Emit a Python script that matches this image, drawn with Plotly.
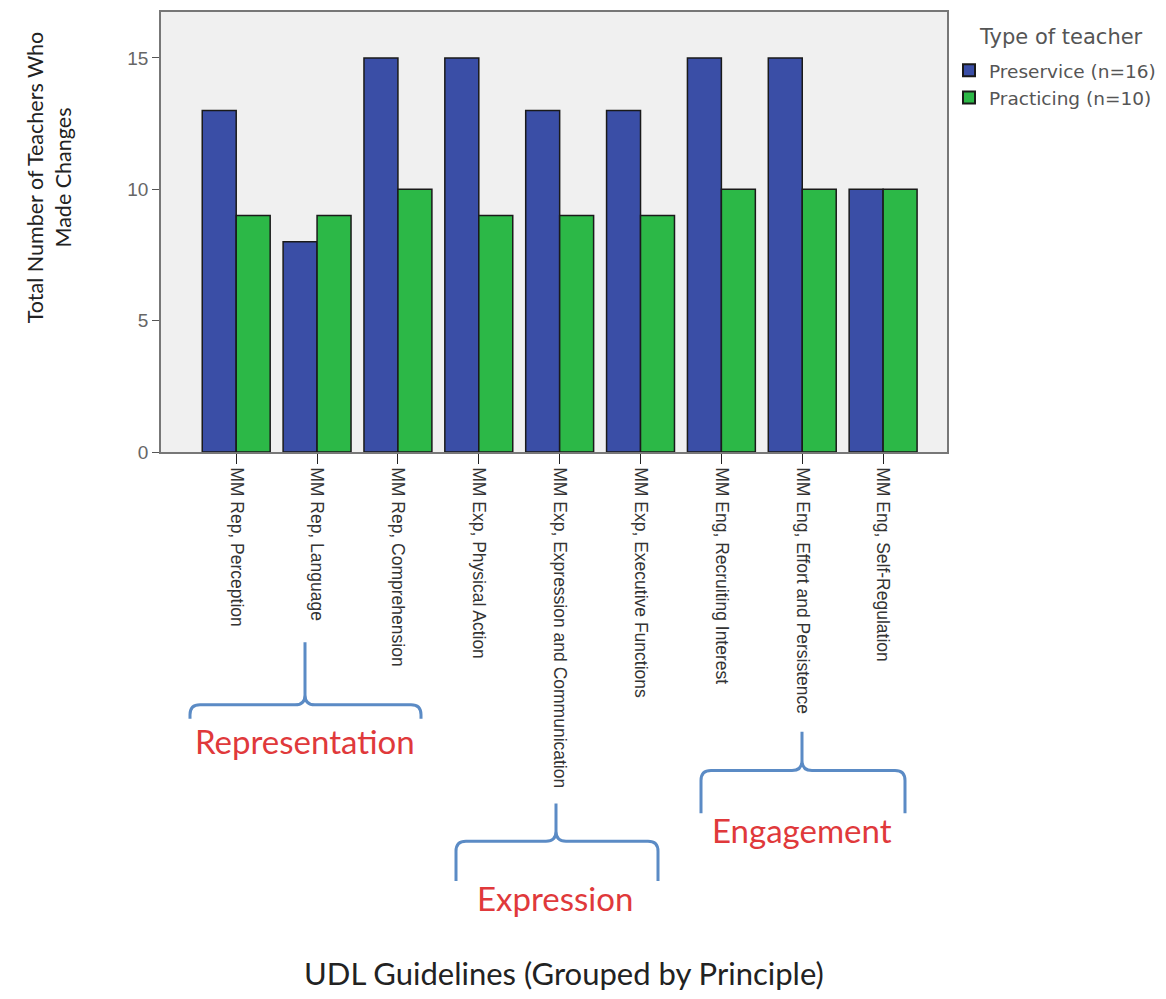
import plotly.graph_objects as go

categories = [
    "MM Rep, Perception",
    "MM Rep, Language",
    "MM Rep, Comprehension",
    "MM Exp, Physical Action",
    "MM Exp, Expression and Communication",
    "MM Exp, Executive Functions",
    "MM Eng, Recruiting Interest",
    "MM Eng, Effort and Persistence",
    "MM Eng, Self-Regulation",
]
preservice = [13, 8, 15, 15, 13, 13, 15, 15, 10]
practicing = [9, 9, 10, 9, 9, 9, 10, 10, 10]
series_names = ["Preservice (n=16)", "Practicing (n=10)"]
y_ticks = [0, 5, 10, 15]

# page is offset by the default 8px body margin
OFF = 8
PW, PH = 1166, 999
W, H = PW - OFF, PH - OFF
L, R, T, B = 161, 947, 10, 452  # plot area pixel box (page coords)


def px(x):
    return (x - L) / (R - L)


def py(y):
    return (B - y) / (B - T)


fig = go.Figure()
fig.add_trace(go.Bar(x=categories, y=preservice, name=series_names[0],
                     marker=dict(color="#3A4EA6", line=dict(color="#1a1a1a", width=1.5))))
fig.add_trace(go.Bar(x=categories, y=practicing, name=series_names[1],
                     marker=dict(color="#2CB847", line=dict(color="#1a1a1a", width=1.5))))


def brace(x0, x1, xm, ytip, ymid, yend, r=10):
    def P(x, y):
        return f"{px(x):.5f},{py(y):.5f}"
    d = (f"M {P(x0, yend)} L {P(x0, ymid + r)} Q {P(x0, ymid)} {P(x0 + r, ymid)} "
         f"L {P(xm - r, ymid)} Q {P(xm, ymid)} {P(xm, ymid - r)} L {P(xm, ytip)} "
         f"M {P(xm, ymid - r)} Q {P(xm, ymid)} {P(xm + r, ymid)} "
         f"L {P(x1 - r, ymid)} Q {P(x1, ymid)} {P(x1, ymid + r)} L {P(x1, yend)}")
    return dict(type="path", xref="paper", yref="paper", path=d,
                line=dict(color="#5B8BC5", width=3))


shapes = [
    brace(190, 421, 305, 643, 706, 720),
    brace(456, 658, 556, 805, 843, 883),
    brace(701, 905, 802, 733, 772, 815),
]

annotations = []
for label, x, y in [("Representation", 305, 742), ("Expression", 555, 900), ("Engagement", 802, 832)]:
    annotations.append(dict(text=label, x=px(x), y=py(y), xref="paper", yref="paper",
                            showarrow=False, xanchor="center", yanchor="middle",
                            font=dict(family="Lato, Open Sans, sans-serif", size=33, color="#E0393B")))

annotations.append(dict(text="Total Number of Teachers Who<br>Made Changes", x=px(49), y=py(176),
                        xref="paper", yref="paper", showarrow=False, textangle=-90,
                        xanchor="center", yanchor="middle",
                        font=dict(family="Lato, Open Sans, sans-serif", size=21.5, color="#222")))
annotations.append(dict(text="UDL Guidelines (Grouped by Principle)", x=px(564), y=py(975),
                        xref="paper", yref="paper", showarrow=False,
                        xanchor="center", yanchor="middle",
                        font=dict(family="Lato, Open Sans, sans-serif", size=31, color="#222")))
annotations.append(dict(text="Type of teacher", x=px(1061), y=py(35),
                        xref="paper", yref="paper", showarrow=False,
                        xanchor="center", yanchor="middle",
                        font=dict(family="DejaVu Sans, Verdana", size=21, color="#555")))

fig.update_layout(
    width=W, height=H, autosize=False,
    margin=dict(l=L - OFF, r=PW - R, t=T - OFF, b=PH - B),
    paper_bgcolor="white", plot_bgcolor="#F0F0F0",
    barmode="group", bargap=0.16, bargroupgap=0,
    shapes=shapes, annotations=annotations,
    legend=dict(x=px(949), y=py(50), xanchor="left", yanchor="top",
                font=dict(family="DejaVu Sans, Verdana", size=18.5, color="#555"),
                bgcolor="rgba(0,0,0,0)", itemsizing="constant", itemwidth=30,
                tracegroupgap=0),
    showlegend=True,
)
fig.update_xaxes(range=[-0.93, 8.79], tickangle=90, ticks="outside", ticklen=10, tickcolor="#222",
                 showline=True, linecolor="#777", linewidth=1.5, mirror=True, showgrid=False,
                 tickfont=dict(family="Liberation Sans Narrow, Arial Narrow, Liberation Sans, Arial", size=17.5, color="#333"))
fig.update_yaxes(range=[0, 16.75], tickvals=y_ticks, ticks="outside", ticklen=7, tickcolor="#555",
                 showline=True, linecolor="#777", linewidth=1.5, mirror=True, showgrid=False, zeroline=False,
                 tickfont=dict(family="Liberation Sans, Arial", size=19, color="#666"))

fig.write_html("out.html")
